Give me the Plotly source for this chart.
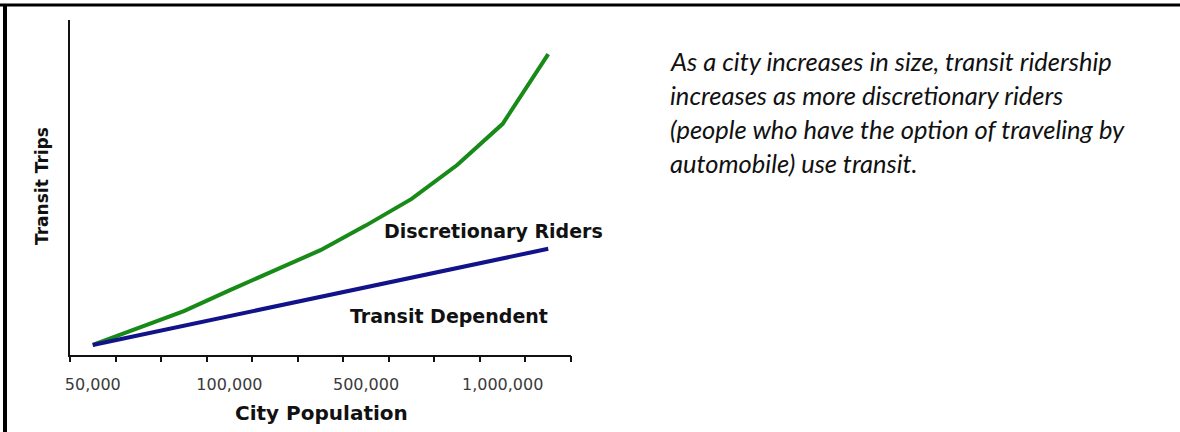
import plotly.graph_objects as go

# ---- data ----
categories = list(range(11))
tick_labels = ["50,000", "", "", "100,000", "", "", "500,000", "", "", "1,000,000", ""]
discretionary = [3.0, 8.1, 13.1, 19.3, 25.4, 31.3, 38.7, 46.6, 56.7, 69.0, 89.8]
dependent = [3.0, 5.9, 8.8, 11.6, 14.5, 17.4, 20.2, 23.1, 26.0, 28.8, 31.7]
note_lines = [
    "As a city increases in size, transit ridership",
    "increases as more discretionary riders",
    "(people who have the option of traveling by",
    "automobile) use transit.",
]

W, H = 1180, 432
L, R, T, B = 70, 609, 20, 77
PW, PH = W - L - R, H - T - B


def px(x):
    return (x - L) / PW


def py(y):
    return (H - B - y) / PH


fig = go.Figure()
fig.add_trace(go.Scatter(x=categories, y=discretionary, mode="lines",
                         line=dict(color="#178a17", width=4), showlegend=False))
fig.add_trace(go.Scatter(x=categories, y=dependent, mode="lines",
                         line=dict(color="#12128a", width=4), showlegend=False))
# invisible trace on secondary x axis for boundary ticks
fig.add_trace(go.Scatter(x=[-0.5, 10.5], y=[None, None], xaxis="x2", showlegend=False,
                         hoverinfo="skip"))

lab_idx = [i for i, t in enumerate(tick_labels) if t]
fig.update_layout(
    width=W, height=H,
    margin=dict(l=L, r=R, t=T, b=B),
    paper_bgcolor="white", plot_bgcolor="white",
    xaxis=dict(range=[-0.5, 10.5], tickvals=[categories[i] for i in lab_idx],
               ticktext=[tick_labels[i] for i in lab_idx], ticks="", showgrid=False,
               zeroline=False, showline=True, linecolor="#111", linewidth=2,
               ticklabelstandoff=14,
               tickfont=dict(family="DejaVu Sans", size=16, color="#3a3a3a")),
    xaxis2=dict(range=[-0.5, 10.5], overlaying="x", anchor="y", side="bottom",
                tickvals=[c - 0.5 for c in categories] + [10.5], showticklabels=False,
                ticks="outside", ticklen=6, tickwidth=2, tickcolor="#111",
                showgrid=False, zeroline=False, showline=False),
    yaxis=dict(range=[0, 100], showticklabels=False, ticks="", showgrid=False,
               zeroline=False, showline=True, linecolor="#111", linewidth=1.5),
)

ann = []


def label(text, x, y, size, family="DejaVu Sans", angle=0, xanchor="center"):
    ann.append(dict(text=text, xref="paper", yref="paper", x=px(x), y=py(y),
                    xanchor=xanchor, yanchor="middle", showarrow=False, textangle=angle,
                    font=dict(family=family, size=size, color="#111")))


label("<b>City Population</b>", 321, 413, 20)
label("<b>Transit Trips</b>", 42, 186, 17, angle=-90)
label("<b>Discretionary Riders</b>", 493, 231, 19)
label("<b>Transit Dependent</b>", 449, 316, 19)
for i, line in enumerate(note_lines):
    label("<i>" + line + "</i>", 668, 61 + 34 * i, 25.5, family="Lato", xanchor="left")
fig.update_layout(annotations=ann)

fig.update_layout(shapes=[
    dict(type="line", xref="paper", yref="paper", x0=px(0), x1=px(1180), y0=py(5), y1=py(5),
         line=dict(color="black", width=3)),
    dict(type="line", xref="paper", yref="paper", x0=px(5), x1=px(5), y0=py(5), y1=py(432),
         line=dict(color="black", width=4)),
])

fig.write_html("out.html", config={"displayModeBar": False},
               post_script="document.body.style.margin='0';document.body.style.overflow='hidden';")
